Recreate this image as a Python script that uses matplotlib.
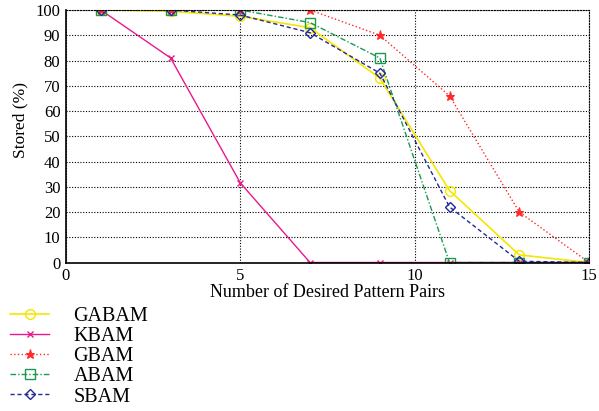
"""
Stored percentage vs number of desired pattern pairs for several BAM variants.
"""
import matplotlib
matplotlib.use('Agg')
import matplotlib.pyplot as plt

# data
pairs = [1, 3, 5, 7, 9, 11, 13, 15]
gabam = [100, 99.5, 97.5, 93, 73, 28.5, 3, 0]
kbam = [100, 81, 31.5, 0, 0, 0, 0, 0]
gbam = [100, 100, 100, 100, 90, 66, 20, 0]
abam = [100, 100, 100, 95, 81, 0, 0, 0]
sbam = [100, 100, 98, 91, 75, 22, 0.5, 0]

x_ticks = [0, 5, 10, 15]
y_ticks = list(range(0, 101, 10))

plt.rcParams['font.family'] = ['Liberation Serif', 'DejaVu Serif']

fig = plt.figure(figsize=(5.99, 4.11), dpi=100)
ax = fig.add_axes([66 / 599, 1 - 262.5 / 411, (589 - 66) / 599, (262.5 - 10) / 411])

ax.plot(pairs, gabam, color='#f5e600', linestyle='-', linewidth=1.2,
        marker='o', markersize=7, markerfacecolor='none', markeredgewidth=1.0,
        label='GABAM')
ax.plot(pairs, kbam, color='#e8198c', linestyle='-', linewidth=1.0,
        marker='x', markersize=4, markeredgewidth=1.0, label='KBAM')
ax.plot(pairs, gbam, color='#ff2a2a', linestyle=':', linewidth=1.0,
        marker='*', markersize=6.5, markeredgewidth=0.8, label='GBAM')
ax.plot(pairs, abam, color='#1a9a50', linestyle=(0, (4, 1.5, 1, 1.5)), linewidth=1.0,
        marker='s', markersize=6.5, markerfacecolor='none', markeredgewidth=1.0,
        label='ABAM')
ax.plot(pairs, sbam, color='#23289a', linestyle=(0, (3, 2)), linewidth=1.0,
        marker='D', markersize=5.5, markerfacecolor='none', markeredgewidth=1.0,
        label='SBAM')

ax.set_xlim(0, 15)
ax.set_ylim(0, 100)
ax.set_xticks(x_ticks)
ax.set_yticks(y_ticks)
ax.tick_params(length=0, labelsize=12, pad=4)
ax.grid(True, color='black', linestyle=(0, (1, 1.5)), linewidth=0.8)
ax.set_axisbelow(True)
# top and right edges look like grid lines in the original
for side in ['top', 'right']:
    ax.spines[side].set_linestyle((0, (1, 1.5)))
    ax.spines[side].set_linewidth(0.8)
for side in ['left', 'bottom']:
    ax.spines[side].set_linewidth(1.2)

ax.set_xlabel('Number of Desired Pattern Pairs', fontsize=13, labelpad=0)
ax.set_ylabel('Stored (%)', fontsize=12.5)
ax.yaxis.set_label_coords(-0.071, 0.564)

leg = fig.legend(loc='upper left', bbox_to_anchor=(10 / 599, 1 - 307 / 411),
                 frameon=False, fontsize=14.5, handlelength=1.95,
                 handletextpad=1.2, labelspacing=0.05, borderaxespad=0,
                 borderpad=0)

fig.savefig('out.png', dpi=100)
